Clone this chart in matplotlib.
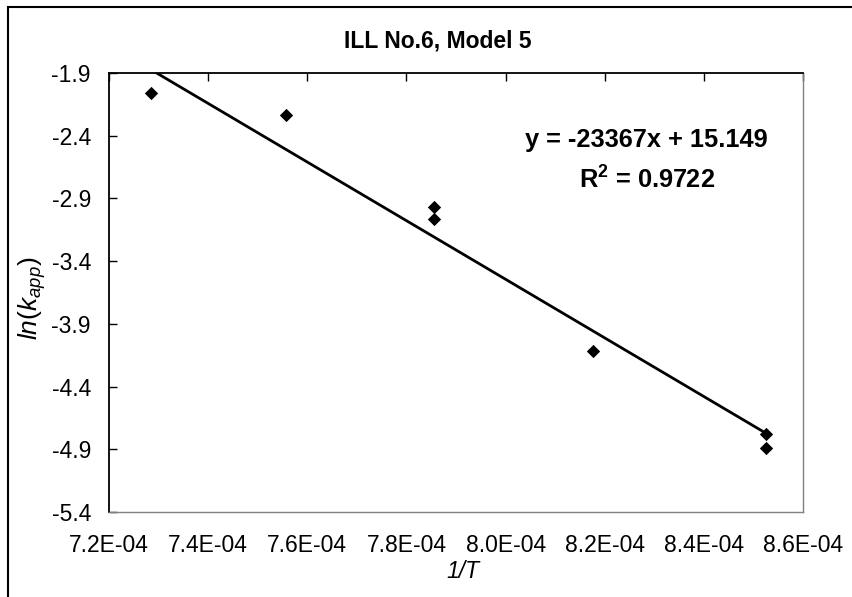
import numpy as np
import matplotlib
matplotlib.use("Agg")
import matplotlib.pyplot as plt
from matplotlib.patches import Rectangle

plt.rcParams['font.family'] = ['Liberation Sans', 'DejaVu Sans']
plt.rcParams['mathtext.fontset'] = 'custom'
plt.rcParams['mathtext.rm'] = 'Liberation Sans'
plt.rcParams['mathtext.it'] = 'Liberation Sans:italic'
plt.rcParams['mathtext.bf'] = 'Liberation Sans:bold'

# measured points: 1/T against ln(k_app)
inv_T = [7.284e-4, 7.557e-4, 7.855e-4, 7.855e-4, 8.176e-4, 8.525e-4, 8.525e-4]
ln_k = [-2.062, -2.235, -2.966, -3.064, -4.114, -4.781, -4.893]

# linear trendline
slope = -23367
intercept = 15.149
r_squared = 0.9722

x_ticks = [7.2e-4, 7.4e-4, 7.6e-4, 7.8e-4, 8.0e-4, 8.2e-4, 8.4e-4, 8.6e-4]
y_ticks = [-1.9, -2.4, -2.9, -3.4, -3.9, -4.4, -4.9, -5.4]

W, H = 852, 597
fig = plt.figure(figsize=(W / 100, H / 100), dpi=100)
ax = fig.add_axes([109 / W, 1 - 512 / H, (803 - 109) / W, (512 - 73) / H])

ax.scatter(inv_T, ln_k, marker='D', s=46, color='black', linewidths=0, zorder=3)

xl = np.array([min(inv_T), max(inv_T)])
ax.plot(xl, slope * xl + intercept, color='black', lw=2.0, zorder=2)

ax.set_xlim(x_ticks[0], x_ticks[-1])
ax.set_ylim(y_ticks[-1], y_ticks[0])
ax.set_xticks(x_ticks)
ax.set_xticklabels([f"{v:.1E}" for v in x_ticks])
ax.set_yticks(y_ticks)
ax.set_yticklabels([f"{v:.1f}" for v in y_ticks])

ax.tick_params(axis='x', direction='in', top=True, bottom=False,
               labelbottom=True, labeltop=False, length=6, width=1,
               pad=16, labelsize=16.5)
ax.tick_params(axis='y', direction='in', left=True, right=False,
               length=6, width=1, pad=13, labelsize=16.5)

for side in ['left', 'top']:
    ax.spines[side].set_color('black')
    ax.spines[side].set_linewidth(1.3)
for side in ['right', 'bottom']:
    ax.spines[side].set_color('#808080')
    ax.spines[side].set_linewidth(1.0)

fig.text(438 / W, 1 - 41 / H, "ILL No.6, Model 5", ha='center', va='center',
         fontsize=16.5, fontweight='bold')
fig.text(646 / W, 1 - 140 / H, f"y = {slope}x + {intercept}", ha='center',
         va='center', fontsize=18.3, fontweight='bold')
fig.text(647 / W, 1 - 180 / H, r"R$^\mathbf{2}$ = " + f"{r_squared}",
         ha='center', va='center', fontsize=18.3, fontweight='bold')

fig.text(32 / W, 1 - 298 / H, r"$ln(k_{app})$", rotation=90, ha='center',
         va='center', fontsize=19)
fig.text(463 / W, 1 - 572 / H, "1/T", ha='center', va='center',
         fontsize=16.5, fontstyle='italic')

# chart frame, running off the right and bottom edges
fig.patches.append(Rectangle((8 / W, -0.2), 1.2, 1.2 - 6.5 / H, fill=False,
                             edgecolor='black', lw=1.5,
                             transform=fig.transFigure, figure=fig))

fig.savefig("out.png", dpi=100)
